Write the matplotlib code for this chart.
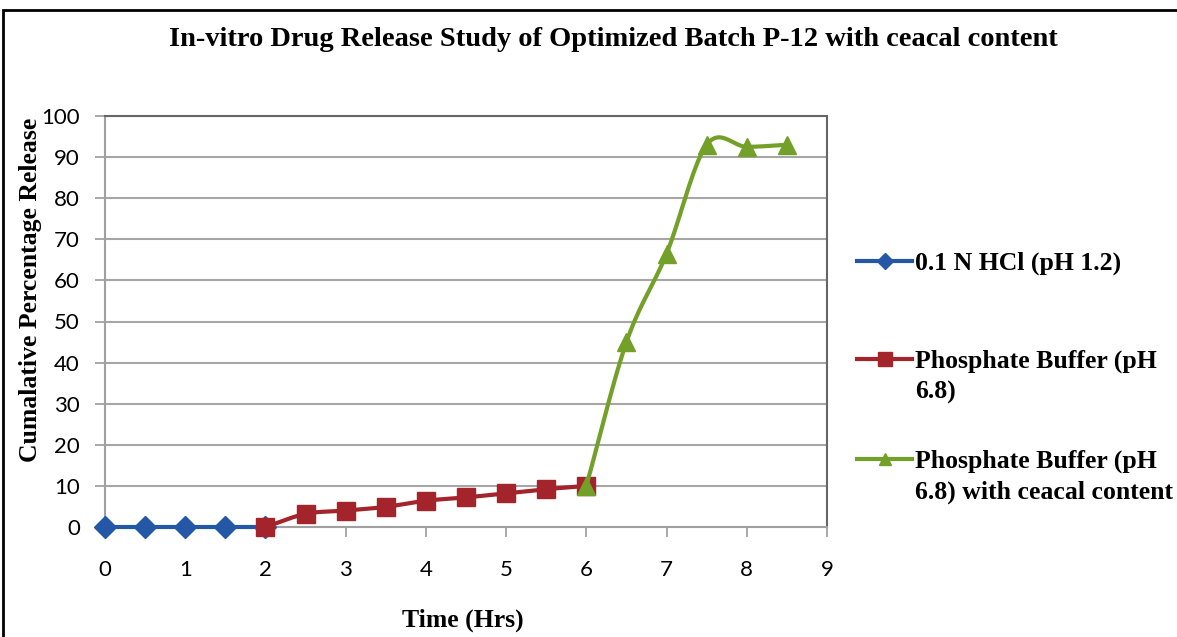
import numpy as np
import matplotlib
matplotlib.use("Agg")
import matplotlib.pyplot as plt
from matplotlib.patches import Rectangle
from matplotlib.lines import Line2D

# ---- data ----
hcl_time = [0, 0.5, 1, 1.5, 2]
hcl_release = [0, 0, 0, 0, 0]
pb_time = [2, 2.5, 3, 3.5, 4, 4.5, 5, 5.5, 6]
pb_release = [0, 3.2, 4.0, 4.9, 6.4, 7.2, 8.2, 9.2, 10.0]
pbc_time = [6, 6.5, 7, 7.5, 8, 8.5]
pbc_release = [10.0, 45.0, 66.5, 93.0, 92.5, 93.0]

labels = ["0.1 N HCl (pH 1.2)", "Phosphate Buffer (pH\n6.8)",
          "Phosphate Buffer (pH\n6.8) with ceacal content"]
title = "In-vitro Drug Release Study of Optimized Batch P-12 with ceacal content"
xlabel = "Time (Hrs)"
ylabel = "Cumalative Percentage Release"
xticks = list(range(0, 10))
yticks = list(range(0, 101, 10))

colors = ["#2457A5", "#A3242A", "#72A028"]
markers = ["D", "s", "^"]
msizes = [11, 13.5, 13]


def smooth(x, y, n=30):
    """Excel-like smoothed line (Catmull-Rom through the data points)."""
    x = np.asarray(x, float); y = np.asarray(y, float)
    if len(x) < 3:
        return x, y
    px = np.concatenate([[2 * x[0] - x[1]], x, [2 * x[-1] - x[-2]]])
    py = np.concatenate([[2 * y[0] - y[1]], y, [2 * y[-1] - y[-2]]])
    xs, ys = [], []
    t = np.linspace(0, 1, n)
    for i in range(1, len(px) - 2):
        for arr, out in ((px, xs), (py, ys)):
            p0, p1, p2, p3 = arr[i - 1], arr[i], arr[i + 1], arr[i + 2]
            c = 0.5 * ((2 * p1) + (-p0 + p2) * t + (2 * p0 - 5 * p1 + 4 * p2 - p3) * t ** 2
                       + (-p0 + 3 * p1 - 3 * p2 + p3) * t ** 3)
            out.extend(c if i == len(px) - 3 else c[:-1])
    return np.array(xs), np.array(ys)


W, H = 1177, 637
fig = plt.figure(figsize=(W / 100, H / 100), dpi=100)
ax = fig.add_axes([105 / W, 1 - 527 / H, (827 - 105) / W, (527 - 116) / H])

serif = ["Liberation Serif", "DejaVu Serif"]
sans = ["Lato", "DejaVu Sans"]

series = [(hcl_time, hcl_release), (pb_time, pb_release), (pbc_time, pbc_release)]
for k, ((xs, ys), col, mk, ms) in enumerate(zip(series, colors, markers, msizes)):
    sx, sy = smooth(xs, ys)
    ax.plot(sx, sy, color=col, lw=3, zorder=3 + 2 * k, solid_capstyle="round", clip_on=False)
    ax.plot(xs, ys, ls="none", marker=mk, ms=ms, color=col, zorder=4 + 2 * k, clip_on=False)

ax.set_xlim(0, 9)
ax.set_ylim(0, 100)
ax.set_xticks(xticks)
ax.set_yticks(yticks)
ax.set_xticklabels([str(v) for v in xticks], family=sans, fontsize=16)
ax.set_yticklabels([str(v) for v in yticks], family=sans, fontsize=16)
ax.tick_params(axis="both", length=7, color="#999999", width=1.2)
ax.tick_params(axis="y", pad=11)
ax.tick_params(axis="x", pad=17)
ax.grid(axis="y", color="#a6a6a6", lw=1.5, zorder=0)
for s in ["left", "bottom"]:
    ax.spines[s].set_color("#a0a0a0")
    ax.spines[s].set_linewidth(1.5)
for s in ["top", "right"]:
    ax.spines[s].set_color("#666666")
    ax.spines[s].set_linewidth(1.5)

fig.text(613 / W, 1 - 40 / H, title, ha="center", va="center",
         family=serif, fontweight="bold", fontsize=20.5)
fig.text(31 / W, 1 - 290 / H, ylabel, rotation=90,
         ha="center", va="center", family=serif, fontweight="bold", fontsize=18.5)
fig.text(463 / W, 1 - 620 / H, xlabel, ha="center", va="center",
         family=serif, fontweight="bold", fontsize=18.5)

# legend (handle aligned with the first text line, as in the original)
handle_y = [261, 359, 459]
for lab, col, mk, ms, hy in zip(labels, colors, markers, msizes, handle_y):
    fig.add_artist(Line2D([857 / W, 912 / W], [1 - hy / H] * 2, transform=fig.transFigure,
                          color=col, lw=3))
    fig.add_artist(Line2D([884.5 / W], [1 - hy / H], transform=fig.transFigure,
                          color=col, marker=mk, ms=ms * 0.7, ls="none"))
    fig.text(915 / W, 1 - (hy - 9) / H, lab, ha="left", va="top", family=serif,
             fontweight="bold", fontsize=18.5, linespacing=1.4)

fig.patches.append(Rectangle((3 / W, -0.1), 1.2, 1 - 10 / H + 0.1, transform=fig.transFigure,
                             fill=False, edgecolor="black", lw=2))

fig.savefig("out.png", dpi=100)
